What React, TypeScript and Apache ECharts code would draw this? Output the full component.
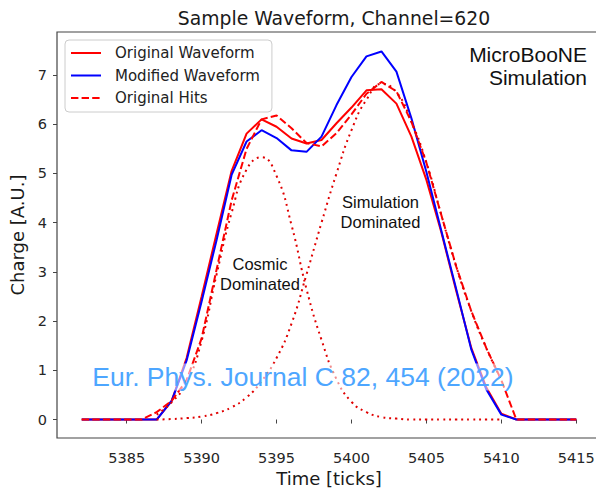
import React, { useEffect, useRef } from "react";
import * as echarts from "echarts";

// ---- data ----
const ticks = [
  5382, 5383, 5384, 5385, 5386, 5387, 5388, 5389, 5390, 5391, 5392, 5393,
  5394, 5395, 5396, 5397, 5398, 5399, 5400, 5401, 5402, 5403, 5404, 5405,
  5406, 5407, 5408, 5409, 5410, 5411, 5412, 5413, 5414, 5415,
];
const originalWaveform = [
  0, 0, 0, 0, 0, 0,
  0.38, 1.25, 2.5, 3.78, 5.05, 5.81, 6.1, 5.95, 5.71, 5.61, 5.68, 6.02,
  6.34, 6.69, 6.71, 6.42, 5.75, 4.87, 3.8, 2.6, 1.45, 0.65, 0.12,
  0, 0, 0, 0, 0,
];
const modifiedWaveform = [
  0, 0, 0, 0, 0, 0,
  0.38, 1.2, 2.4, 3.65, 4.97, 5.65, 5.88, 5.72, 5.47, 5.44, 5.75, 6.39,
  6.96, 7.38, 7.48, 7.07, 6.12, 5.03, 3.83, 2.64, 1.42, 0.61, 0.1,
  0, 0, 0, 0, 0,
];
const originalHits = [
  0, 0, 0, 0, 0,
  0.15, 0.38, 0.8, 1.65, 3.05, 4.45, 5.5, 6.1, 6.18, 5.92, 5.62, 5.55, 5.82,
  6.2, 6.62, 6.86, 6.67, 6.05, 5.22, 4.15, 3.1, 2.2, 1.45, 0.8,
  0, 0, 0, 0, 0,
];
const hitTicks = [
  5387, 5388, 5389, 5390, 5391, 5392, 5393, 5394, 5395, 5396, 5397, 5398,
  5399, 5400, 5401, 5402, 5403, 5404, 5405, 5406, 5407, 5408, 5409, 5410,
];
const cosmicHit = [
  0.1, 0.35, 0.75, 1.6, 2.95, 4.2, 5.08, 5.33, 4.95, 3.95, 2.65, 1.62,
  0.82, 0.36, 0.15, 0.05, 0.02, 0, 0, 0, 0, 0, 0, 0,
];
const simulationHit = [
  0, 0.01, 0.03, 0.06, 0.13, 0.25, 0.45, 0.78, 1.25, 1.95, 2.95, 4.0,
  5.0, 5.88, 6.5, 6.82, 6.65, 6.05, 5.22, 4.15, 3.1, 2.2, 1.45, 0.8,
];
const xTickLabels = [5385, 5390, 5395, 5400, 5405, 5410, 5415];
const yTickLabels = [0, 1, 2, 3, 4, 5, 6, 7];

const MPL = "DejaVu Sans, Liberation Sans, sans-serif";
const SANS = "Liberation Sans, Arial, sans-serif";

function pairs(xs: number[], ys: number[]) {
  return xs.map((x, i) => [x, ys[i]]);
}

export default function App() {
  const ref = useRef<HTMLDivElement>(null);

  useEffect(() => {
    if (!ref.current) return;
    const chart = echarts.init(ref.current, undefined, { renderer: "svg" });

    const option: any = {
      animation: false,
      backgroundColor: "#ffffff",
      title: {
        text: "Sample Waveform, Channel=620",
        left: 329,
        top: 4,
        textAlign: "center",
        textStyle: {
          fontFamily: MPL,
          fontSize: 18.8,
          fontWeight: "normal",
          color: "#1a1a1a",
        },
      },
      grid: {
        left: 57,
        top: 32,
        width: 544,
        height: 406,
        outerBoundsMode: "none",
        containLabel: false,
        show: true,
        borderColor: "#444444",
        borderWidth: 1.2,
        backgroundColor: "transparent",
      },
      legend: {
        data: ["Original Waveform", "Modified Waveform", "Original Hits"],
        orient: "vertical",
        left: 65,
        top: 40,
        itemWidth: 30,
        itemHeight: 14,
        itemGap: 4.5,
        padding: [4, 12, 5, 5],
        backgroundColor: "rgba(255,255,255,0.8)",
        borderColor: "#cccccc",
        borderWidth: 1,
        borderRadius: 4,
        itemStyle: { opacity: 0 },
        textStyle: {
          fontFamily: MPL,
          fontSize: 15,
          color: "#222222",
          lineHeight: 18,
          padding: [0, 0, 0, 9],
        },
      },
      xAxis: {
        type: "value",
        min: 5380.35,
        max: 5416.65,
        name: "Time [ticks]",
        nameLocation: "middle",
        nameGap: 30,
        nameTextStyle: { fontFamily: MPL, fontSize: 18, color: "#1a1a1a" },
        axisLine: { show: false },
        splitLine: { show: false },
        axisTick: {
          show: true,
          inside: false,
          length: 4,
          customValues: xTickLabels,
          lineStyle: { color: "#444444", width: 1 },
        },
        axisLabel: {
          customValues: xTickLabels,
          formatter: (v: number) => String(v),
          margin: 12,
          fontFamily: MPL,
          fontSize: 14.5,
          color: "#262626",
        },
      },
      yAxis: {
        type: "value",
        min: -0.375,
        max: 7.875,
        name: "Charge [A.U.]",
        nameLocation: "middle",
        nameGap: 23,
        nameTextStyle: { fontFamily: MPL, fontSize: 18, color: "#1a1a1a" },
        axisLine: { show: false },
        splitLine: { show: false },
        axisTick: {
          show: true,
          inside: false,
          length: 4,
          customValues: yTickLabels,
          lineStyle: { color: "#444444", width: 1 },
        },
        axisLabel: {
          customValues: yTickLabels,
          formatter: (v: number) => String(v),
          margin: 10,
          fontFamily: MPL,
          fontSize: 14.5,
          color: "#262626",
        },
      },
      series: [
        {
          name: "Original Waveform",
          type: "line",
          data: pairs(ticks, originalWaveform),
          symbol: "none",
          color: "#ff0000",
          lineStyle: { color: "#ff0000", width: 2 },
          z: 2,
        },
        {
          name: "Modified Waveform",
          type: "line",
          data: pairs(ticks, modifiedWaveform),
          symbol: "none",
          color: "#0000ff",
          lineStyle: { color: "#0000ff", width: 2 },
          z: 3,
        },
        {
          name: "Original Hits",
          type: "line",
          data: pairs(ticks, originalHits),
          symbol: "none",
          color: "#ff0000",
          lineStyle: { color: "#ff0000", width: 2, type: [7.4, 3.2] },
          z: 4,
        },
        {
          name: "Cosmic Hit",
          type: "line",
          data: pairs(hitTicks, cosmicHit),
          symbol: "none",
          smooth: 0.5,
          color: "#e00000",
          lineStyle: { color: "#e00000", width: 2, type: [2, 4] },
          z: 5,
        },
        {
          name: "Simulation Hit",
          type: "line",
          data: pairs(hitTicks, simulationHit),
          symbol: "none",
          smooth: 0.5,
          color: "#e00000",
          lineStyle: { color: "#e00000", width: 2, type: [2, 4] },
          z: 5,
        },
      ],
      graphic: [
        {
          type: "text",
          x: 587,
          y: 43,
          z: 50,
          style: {
            text: "MicroBooNE\nSimulation",
            fontFamily: SANS,
            fontSize: 21,
            lineHeight: 23,
            fill: "#111111",
            align: "right",
            verticalAlign: "top",
          },
        },
        {
          type: "text",
          x: 380.5,
          y: 192,
          z: 50,
          style: {
            text: "Simulation\nDominated",
            fontFamily: SANS,
            fontSize: 16.5,
            lineHeight: 20,
            fill: "#111111",
            align: "center",
            verticalAlign: "top",
          },
        },
        {
          type: "text",
          x: 260,
          y: 254,
          z: 50,
          style: {
            text: "Cosmic\nDominated",
            fontFamily: SANS,
            fontSize: 16.5,
            lineHeight: 20,
            fill: "#111111",
            align: "center",
            verticalAlign: "top",
          },
        },
        {
          type: "text",
          x: 303,
          y: 377,
          z: 60,
          style: {
            text: "Eur. Phys. Journal C 82, 454 (2022)",
            fontFamily: SANS,
            fontSize: 26.5,
            fill: "#4da6ff",
            align: "center",
            verticalAlign: "middle",
            backgroundColor: "rgba(255,255,255,0.55)",
            padding: [0, 2],
          },
        },
      ],
    };

    chart.setOption(option);
    return () => chart.dispose();
  }, []);

  return (
    <div
      ref={ref}
      style={{ position: "fixed", left: 0, top: 0, width: 596, height: 488 }}
    />
  );
}
